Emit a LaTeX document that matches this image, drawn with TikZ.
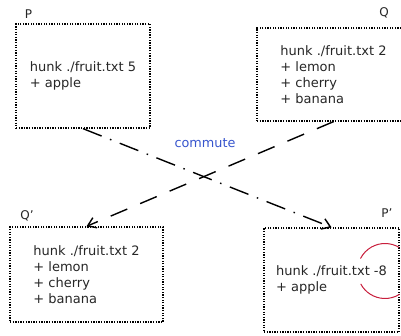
\documentclass[tikz,border=0pt]{standalone}
\usepackage{fontspec}
\setmainfont{DejaVu Sans}
\usetikzlibrary{arrows.meta}
\definecolor{cblue}{RGB}{55,85,205}
\definecolor{cred}{RGB}{200,30,60}
\begin{document}
\begin{tikzpicture}[x=1pt,y=-1pt,
  box/.style={draw, line width=1.3pt, dash pattern=on 1.3pt off 1.3pt, align=left, inner sep=0pt,
    font=\fontsize{13}{16}\selectfont, text=black!85},
  lbl/.style={font=\fontsize{12}{14}\selectfont, text=black!85},
  conn/.style={line width=1.4pt, -{Straight Barb[length=8pt,width=11pt]}},
  markarc/.style={cred, line width=1pt}]
\useasboundingbox (0,0) rectangle (401,336);
\node[box, minimum width=134pt, minimum height=104pt] (P) at (83,76) {hunk ./fruit.txt 5\\+ apple};
\node[box, minimum width=153pt, minimum height=93pt] (Q) at (333.5,74.5) {hunk ./fruit.txt 2\\+ lemon\\+ cherry\\+ banana};
\node[box, minimum width=153pt, minimum height=95pt] (Qp) at (86.5,274.5) {hunk ./fruit.txt 2\\+ lemon\\+ cherry\\+ banana};
\node[box, minimum width=135pt, minimum height=104pt] (Pp) at (331.5,280) {hunk ./fruit.txt -8\\+ apple};
\node[lbl] (lP) at (28.5,14) {P};
\node[lbl] (lQ) at (384,12.5) {Q};
\node[lbl] (lQp) at (27,216) {Q'};
\node[lbl] (lPp) at (387,213) {P'};
\node[font=\fontsize{12.8}{14}\selectfont, text=cblue] (cm) at (205,143) {commute};
\draw[conn, dash pattern=on 20pt off 9pt on 1.5pt off 9pt] (P.south) -- (Pp.north);
\draw[conn, dash pattern=on 18pt off 14pt] (Q.south) -- (Qp.north);
\coordinate (rc) at (385,271);
\draw[markarc] (rc) ++(-59:27.5) arc[start angle=-59, end angle=-153, radius=27.5];
\draw[markarc] (rc) ++(152:27.5) arc[start angle=152, end angle=58, radius=27.5];
\end{tikzpicture}
\end{document}
